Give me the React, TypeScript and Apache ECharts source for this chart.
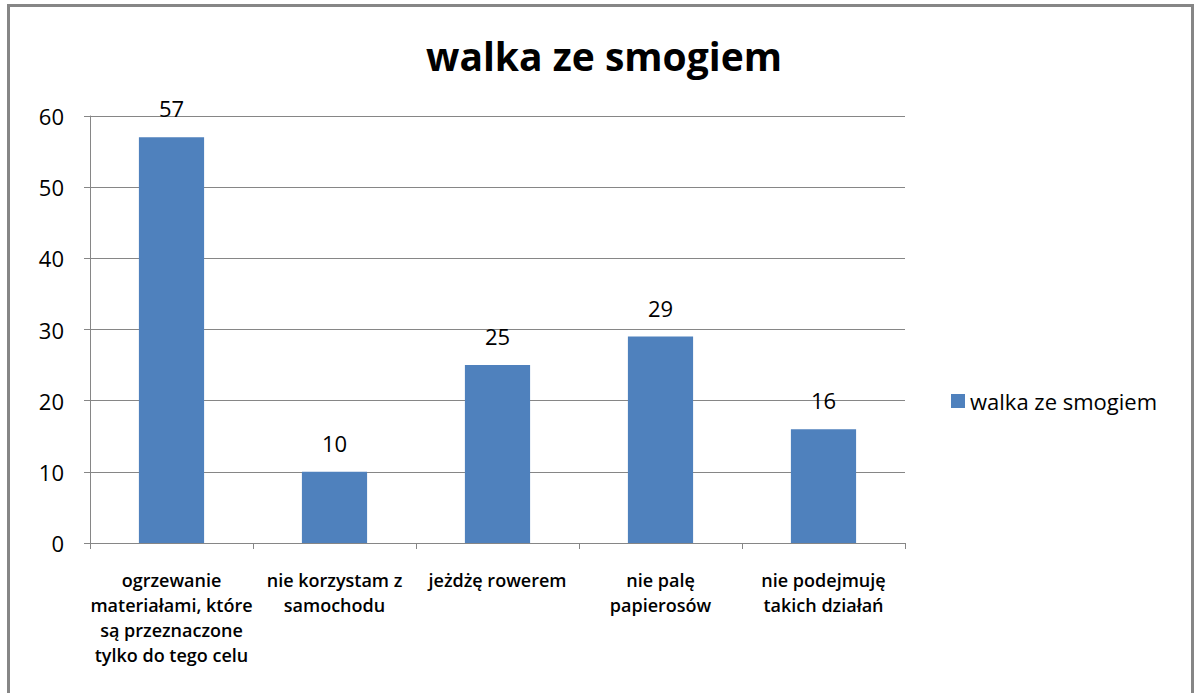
import React, { useEffect, useRef } from "react";
import * as echarts from "echarts";

const categories = [
  "ogrzewanie\nmateriałami, które\nsą przeznaczone\ntylko do tego celu",
  "nie korzystam z\nsamochodu",
  "jeżdżę rowerem",
  "nie palę\npapierosów",
  "nie podejmuję\ntakich działań",
];
const values = [57, 10, 25, 29, 16];
const seriesName = "walka ze smogiem";
const titleText = "walka ze smogiem";

const FONT = "'Open Sans', 'Noto Sans', sans-serif";
const GRAY = "#868686";

export default function App() {
  const ref = useRef<HTMLDivElement>(null);
  useEffect(() => {
    document.body.style.margin = "0";
    const chart = echarts.init(ref.current!, null, { renderer: "svg" });
    chart.setOption({
      animation: false,
      backgroundColor: "#ffffff",
      title: {
        text: titleText,
        left: 599,
        textAlign: "center",
        top: 31,
        textStyle: { fontFamily: FONT, fontSize: 39, fontWeight: "bold", color: "#000" },
      },
      graphic: [
        {
          type: "rect",
          shape: { x: 8.5, y: 5.5, width: 1184, height: 700 },
          style: { fill: "none", stroke: GRAY, lineWidth: 3 },
          silent: true,
        },
      ],
      legend: {
        left: 946,
        top: 385,
        itemWidth: 14,
        itemHeight: 14,
        icon: "rect",
        itemGap: 6,
        textStyle: { fontFamily: FONT, fontSize: 22, color: "#000" },
        data: [seriesName],
      },
      grid: { left: 90, right: 289, top: 116, bottom: 150, containLabel: false },
      xAxis: {
        type: "category",
        data: categories,
        axisLine: { lineStyle: { color: GRAY, width: 1 } },
        axisTick: { show: true, length: 6, alignWithLabel: false, lineStyle: { color: GRAY } },
        axisLabel: {
          interval: 0,
          margin: 24,
          fontFamily: FONT,
          fontSize: 18,
          fontWeight: 600,
          color: "#000",
          lineHeight: 25,
        },
      },
      yAxis: {
        type: "value",
        min: 0,
        max: 60,
        interval: 10,
        axisLine: { show: true, lineStyle: { color: GRAY, width: 1 } },
        axisTick: { show: true, length: 6, lineStyle: { color: GRAY } },
        splitLine: { show: true, lineStyle: { color: GRAY, width: 1 } },
        axisLabel: { fontFamily: FONT, fontSize: 22, color: "#000", margin: 26 },
      },
      series: [
        {
          name: seriesName,
          type: "bar",
          data: values,
          barWidth: "40%",
          itemStyle: { color: "#4F81BD" },
          label: {
            show: true,
            position: "top",
            distance: 18,
            fontFamily: FONT,
            fontSize: 22,
            color: "#000",
          },
        },
      ],
    });
    return () => chart.dispose();
  }, []);
  return (
    <div
      ref={ref}
      style={{ position: "fixed", left: 0, top: 0, width: 1194, height: 693 }}
    />
  );
}
